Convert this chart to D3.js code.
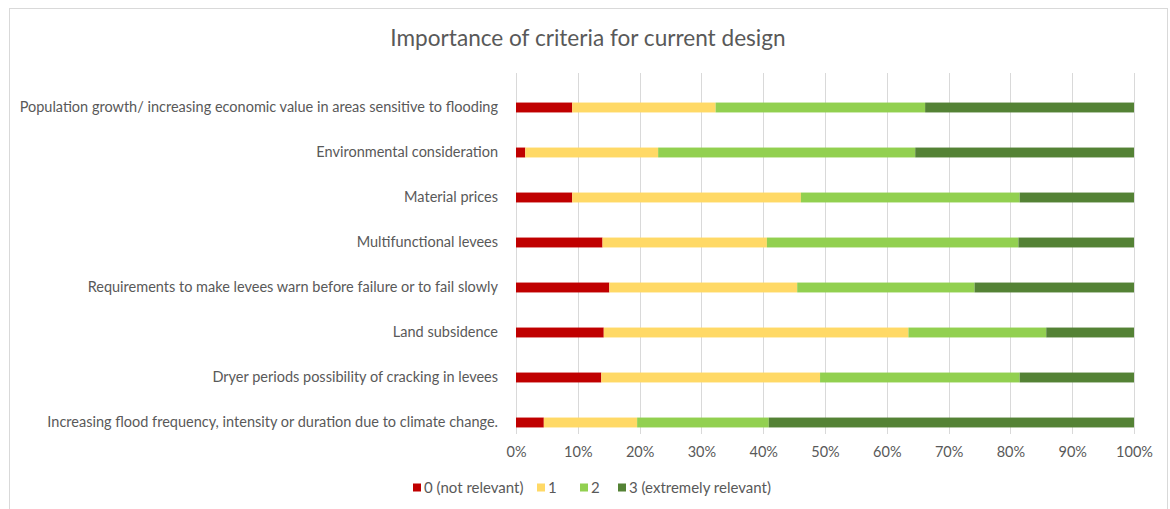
<!DOCTYPE html>
<html>
<head>
<meta charset="utf-8">
<script src="https://cdn.jsdelivr.net/npm/d3@7"></script>
<style>
  html, body { margin: 0; padding: 0; background: #fff; }
  svg { display: block; font-family: Lato, "Open Sans", sans-serif; }
</style>
</head>
<body>
<svg id="chart" width="1170" height="509"></svg>
<script>
// Survey criteria, listed top to bottom
const categories = [
  "Population growth/ increasing economic value in areas sensitive to flooding",
  "Environmental consideration",
  "Material prices ",
  "Multifunctional levees",
  "Requirements to make levees warn before failure or to fail slowly",
  "Land subsidence",
  "Dryer periods possibility of cracking in levees",
  "Increasing flood frequency, intensity or duration due to climate change."
];

// Share of answers per score (percent of respondents)
const score0 = [9.1, 1.5, 9.1, 14.0, 15.1, 14.2, 13.8, 4.5];
const score1 = [23.2, 21.5, 37.0, 26.6, 30.4, 49.3, 35.4, 15.1];
const score2 = [33.9, 41.6, 35.4, 40.7, 28.7, 22.3, 32.3, 21.3];
const score3 = [33.8, 35.4, 18.5, 18.7, 25.8, 14.2, 18.5, 59.1];

const seriesNames = ["0 (not relevant)", "1", "2", "3 (extremely relevant)"];
const seriesColors = ["#C00000", "#FFD966", "#92D050", "#548235"];
const xTicks = [0, 0.1, 0.2, 0.3, 0.4, 0.5, 0.6, 0.7, 0.8, 0.9, 1.0];

const svg = d3.select("#chart");
const textColor = "#595959";

// chart frame
svg.append("rect")
  .attr("x", 9.5).attr("y", 8.5)
  .attr("width", 1158).attr("height", 520)
  .attr("fill", "#fff").attr("stroke", "#D9D9D9");

svg.append("text")
  .attr("x", 588).attr("y", 46)
  .attr("text-anchor", "middle")
  .attr("font-size", 22.6)
  .attr("fill", textColor)
  .text("Importance of criteria for current design");

const plot = { left: 516, right: 1134, top: 85, bottom: 445 };

const x = d3.scaleLinear().domain([0, 1]).range([plot.left, plot.right]);
const y = d3.scaleBand().domain(categories).range([plot.top, plot.bottom]).paddingInner(0.78).paddingOuter(0.39);

// vertical gridlines
svg.append("g").selectAll("line").data(xTicks).join("line")
  .attr("x1", d => Math.round(x(d)) + 0.5).attr("x2", d => Math.round(x(d)) + 0.5)
  .attr("y1", 73).attr("y2", 434)
  .attr("stroke", "#D9D9D9").attr("stroke-width", 1);

// normalise each row to 100% and stack
const rows = categories.map((c, i) => {
  const vals = [score0[i], score1[i], score2[i], score3[i]];
  const tot = d3.sum(vals);
  const o = { cat: c };
  seriesNames.forEach((s, k) => o[s] = vals[k] / tot);
  return o;
});
const stacked = d3.stack().keys(seriesNames)(rows);

svg.append("g").selectAll("g").data(stacked).join("g")
  .attr("fill", (d, i) => seriesColors[i])
  .selectAll("rect").data(d => d).join("rect")
  .attr("x", d => x(d[0]))
  .attr("width", d => x(d[1]) - x(d[0]))
  .attr("y", d => y(d.data.cat))
  .attr("height", y.bandwidth());

// category labels
const yAxis = svg.append("g")
  .attr("transform", `translate(${plot.left},0)`)
  .call(d3.axisLeft(y).tickSize(0).tickPadding(18));
yAxis.select(".domain").remove();
yAxis.selectAll("text").attr("font-size", 14.5).attr("fill", textColor).attr("font-family", "Lato, sans-serif");

// percent axis
const xAxis = svg.append("g")
  .attr("transform", `translate(0,440)`)
  .call(d3.axisBottom(x).tickValues(xTicks).tickFormat(d3.format(".0%")).tickSize(0).tickPadding(7));
xAxis.select(".domain").remove();
xAxis.selectAll("text").attr("font-size", 14.5).attr("fill", textColor).attr("font-family", "Lato, sans-serif");

// legend
const legendX = [413, 537, 580, 618];
const legend = svg.append("g").selectAll("g").data(seriesNames).join("g")
  .attr("transform", (d, i) => `translate(${legendX[i]},488)`);
legend.append("rect")
  .attr("x", 0).attr("y", -4.5).attr("width", 8).attr("height", 8)
  .attr("fill", (d, i) => seriesColors[i]);
legend.append("text")
  .attr("x", 11).attr("y", 5)
  .attr("font-size", 15).attr("fill", textColor)
  .text(d => d);
</script>
</body>
</html>
